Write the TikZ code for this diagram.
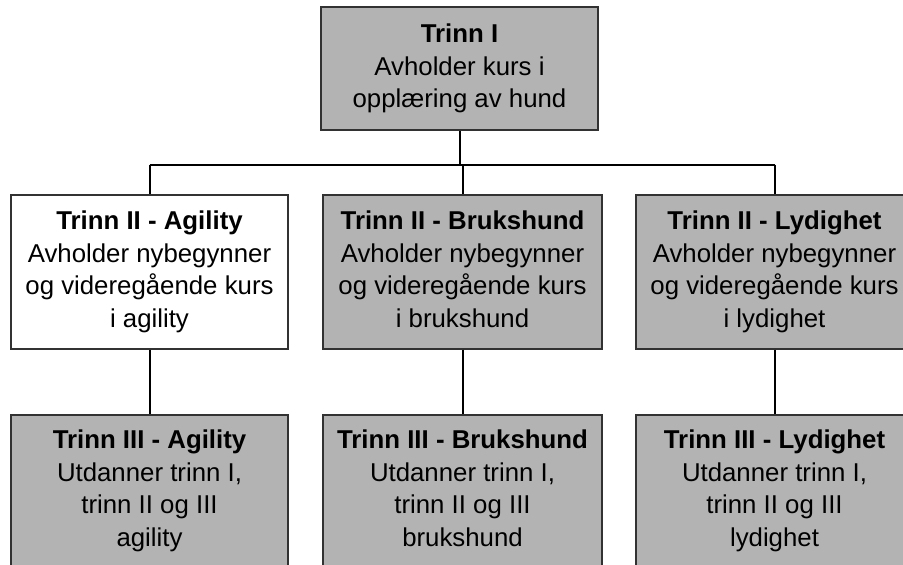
\documentclass[tikz,border=0pt]{standalone}
\usepackage{fontspec}
\setmainfont{Liberation Sans}
\definecolor{boxgray}{RGB}{179,179,179}
\definecolor{boxline}{RGB}{50,50,50}
\begin{document}
\begin{tikzpicture}[x=1pt,y=-1pt,
  box/.style={draw=boxline,line width=1.3pt,rectangle,align=center,inner sep=0pt,
    minimum width=277pt,font=\fontsize{25.8}{32.5}\selectfont},
  grayfill/.style={fill=boxgray},
  whitefill/.style={fill=white},
  conn/.style={draw=black,line width=2pt}]
\useasboundingbox (0,0) rectangle (903,565);
\fill[white] (0,0) rectangle (903,565);
% top
\node[box,grayfill,minimum height=123pt] (top) at (459.5,68.5)
  {\strut\textbf{Trinn I}\\Avholder kurs i\\opplæring av hund\strut};
% row 2
\node[box,whitefill,minimum height=154pt] (agi2) at (149.5,272)
  {\strut\textbf{Trinn II - Agility}\\Avholder nybegynner\\og videregående kurs\\i agility\strut};
\node[box,grayfill,minimum height=154pt,minimum width=279pt] (bru2) at (462.5,272)
  {\strut\textbf{Trinn II - Brukshund}\\Avholder nybegynner\\og videregående kurs\\i brukshund\strut};
\node[box,grayfill,minimum height=154pt] (lyd2) at (774.5,272)
  {\strut\textbf{Trinn II - Lydighet}\\Avholder nybegynner\\og videregående kurs\\i lydighet\strut};
% row 3
\node[box,grayfill,minimum height=152pt] (agi3) at (149.5,491)
  {\strut\textbf{Trinn III - Agility}\\Utdanner trinn I,\\trinn II og III\\agility\strut};
\node[box,grayfill,minimum height=152pt,minimum width=279pt] (bru3) at (462.5,491)
  {\strut\textbf{Trinn III - Brukshund}\\Utdanner trinn I,\\trinn II og III\\brukshund\strut};
\node[box,grayfill,minimum height=152pt] (lyd3) at (774.5,491)
  {\strut\textbf{Trinn III - Lydighet}\\Utdanner trinn I,\\trinn II og III\\lydighet\strut};
% bus
\coordinate (busL) at (149.5,164.5);
\coordinate (busR) at (774.5,164.5);
\coordinate (busT) at (459.5,164.5);
\draw[conn] (top.south) -- (busT);
\draw[conn] (busL) -- (busR);
\draw[conn] (busL) -- (agi2.north);
\draw[conn] (busR) -- (lyd2.north);
\draw[conn] (bru2.north |- busT) -- (bru2.north);
\draw[conn] (agi2.south) -- (agi3.north);
\draw[conn] (bru2.south) -- (bru3.north);
\draw[conn] (lyd2.south) -- (lyd3.north);
\end{tikzpicture}
\end{document}
